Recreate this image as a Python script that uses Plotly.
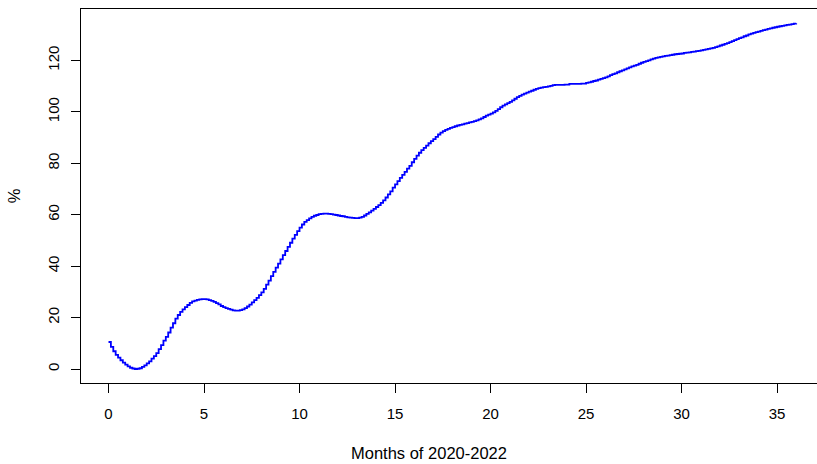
import numpy as np
import plotly.graph_objects as go

# Cumulative percentage, sampled every 1/8 month (one row per month)
pct = [
    10.5, 8.6, 6.9, 5.5, 4.4, 3.4, 2.5, 1.7,
    1.0, 0.5, 0.2, 0.0, 0.1, 0.3, 0.8, 1.4,
    2.2, 3.0, 4.0, 5.0, 6.2, 7.7, 9.3, 11.0,
    12.5, 14.2, 16.1, 17.8, 19.6, 21.0, 22.2, 23.2,
    24.1, 24.9, 25.7, 26.3, 26.6, 26.9, 27.1, 27.2,
    27.2, 27.1, 26.8, 26.5, 26.1, 25.6, 25.1, 24.5,
    24.1, 23.7, 23.4, 23.1, 22.8, 22.7, 22.7, 22.9,
    23.2, 23.7, 24.3, 25.0, 25.9, 26.8, 27.7, 28.7,
    29.8, 31.2, 32.8, 34.4, 36.1, 37.8, 39.4, 41.0,
    42.6, 44.3, 45.9, 47.5, 49.1, 50.7, 52.2, 53.6,
    55.0, 56.2, 57.2, 57.9, 58.6, 59.2, 59.6, 59.9,
    60.2, 60.3, 60.4, 60.4, 60.3, 60.2, 60.0, 59.9,
    59.7, 59.5, 59.4, 59.2, 59.0, 58.9, 58.8, 58.7,
    58.7, 58.9, 59.2, 59.7, 60.3, 60.9, 61.6, 62.3,
    63.0, 63.7, 64.6, 65.6, 66.7, 67.9, 69.1, 70.5,
    71.8, 73.1, 74.3, 75.5, 76.7, 77.9, 79.0, 80.4,
    81.7, 83.0, 84.1, 85.1, 86.0, 86.9, 87.8, 88.6,
    89.4, 90.3, 91.2, 91.9, 92.5, 93.0, 93.4, 93.8,
    94.1, 94.4, 94.7, 94.9, 95.1, 95.4, 95.6, 95.9,
    96.1, 96.4, 96.7, 97.1, 97.5, 98.0, 98.5, 98.9,
    99.3, 99.8, 100.4, 101.1, 101.8, 102.4, 102.9, 103.4,
    103.9, 104.5, 105.1, 105.7, 106.2, 106.7, 107.1, 107.5,
    107.9, 108.2, 108.6, 108.9, 109.2, 109.4, 109.6, 109.7,
    109.9, 110.1, 110.4, 110.5, 110.5, 110.5, 110.5, 110.6,
    110.6, 110.9, 110.9, 110.9, 110.9, 110.9, 111.0, 111.0,
    111.3, 111.5, 111.7, 112.0, 112.2, 112.5, 112.8, 113.1,
    113.4, 113.8, 114.3, 114.7, 115.0, 115.4, 115.8, 116.1,
    116.5, 116.9, 117.3, 117.7, 118.0, 118.3, 118.7, 119.1,
    119.4, 119.7, 120.0, 120.4, 120.7, 121.0, 121.2, 121.4,
    121.6, 121.8, 121.9, 122.1, 122.2, 122.4, 122.5, 122.6,
    122.7, 122.9, 123.0, 123.1, 123.3, 123.4, 123.6, 123.7,
    123.9, 124.1, 124.3, 124.5, 124.7, 124.9, 125.2, 125.5,
    125.8, 126.1, 126.4, 126.7, 127.1, 127.5, 127.9, 128.3,
    128.7, 129.0, 129.4, 129.7, 130.1, 130.4, 130.7, 131.0,
    131.2, 131.5, 131.8, 132.0, 132.3, 132.5, 132.7, 132.9,
    133.1, 133.3, 133.4, 133.6, 133.8, 133.9, 134.1, 134.3,
    134.5,
]
months = np.arange(len(pct)) / 8.0

x_ticks = [0, 5, 10, 15, 20, 25, 30, 35]
y_ticks = [0, 20, 40, 60, 80, 100, 120]
x_title = "Months of 2020-2022"
y_title = "%"

font = dict(family="Liberation Sans, Arial, sans-serif", size=15, color="#000000")
title_font = dict(family="Liberation Sans, Arial, sans-serif", size=16.5, color="#000000")

fig = go.Figure(
    go.Scatter(
        x=months, y=pct, mode="lines",
        line=dict(color="#0000FF", width=1.8, shape="hv"),
        hoverinfo="skip",
    )
)

fig.update_layout(
    width=817, height=464,
    margin=dict(l=81, r=0, t=9, b=81, autoexpand=False),
    paper_bgcolor="white", plot_bgcolor="white",
    font=font, showlegend=False,
    annotations=[
        dict(text=x_title, xref="paper", yref="paper",
             x=0.4728, y=-0.187, xanchor="center", yanchor="middle",
             showarrow=False, font=title_font),
    ],
)

fig.update_xaxes(
    range=[-1.44, 37.09], tickvals=x_ticks, ticktext=[str(v) for v in x_ticks],
    showgrid=False, zeroline=False,
    showline=True, linecolor="black", linewidth=1, mirror=True,
    ticks="outside", ticklen=9, tickwidth=1, tickcolor="black",
    ticklabelstandoff=8,
    automargin=False,
)
fig.update_yaxes(
    range=[-5.44, 140.0], tickvals=y_ticks, ticktext=[str(v) for v in y_ticks],
    showgrid=False, zeroline=False,
    showline=True, linecolor="black", linewidth=1, mirror=False,
    ticks="outside", ticklen=9, tickwidth=1, tickcolor="black",
    tickangle=-90, ticklabelstandoff=6,
    title=dict(text=y_title, font=title_font, standoff=20),
    automargin=False,
)

fig.write_html("out.html")
